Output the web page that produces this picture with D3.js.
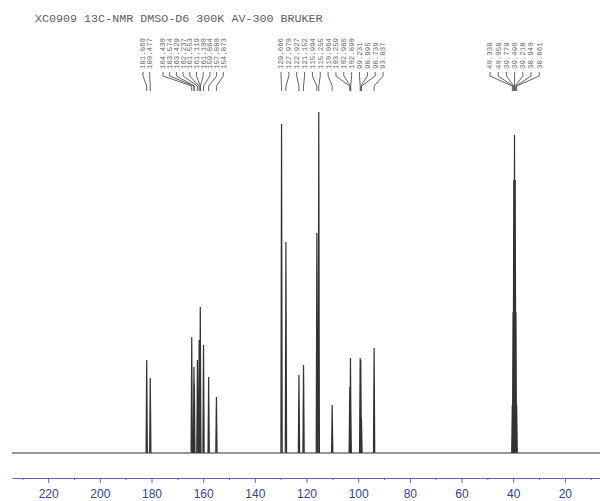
<!DOCTYPE html>
<html>
<head>
<meta charset="utf-8">
<script src="https://cdn.jsdelivr.net/npm/d3@7"></script>
<style>
  body { margin: 0; background: #fff; }
  svg { display: block; }
</style>
</head>
<body>
<script>
// chemical shifts (ppm) and peak heights
const titleText = "XC0909 13C-NMR DMSO-D6 300K AV-300 BRUKER";

const shiftsA = [181.860, 180.477];
const heightsA = [93, 75];

const shiftsB = [164.430, 163.574, 163.429, 162.237, 161.553, 161.119, 161.100, 159.864, 157.880, 154.873];
const heightsB = [116, 86, 70, 93, 113, 146, 110, 108, 76, 56];

const shiftsC = [129.666, 127.970, 122.927, 121.152, 115.994, 115.255, 110.064, 103.259, 102.985, 102.890, 99.231, 98.995, 98.739, 93.837];
const heightsC = [329, 211, 78, 88, 220, 341, 48, 66, 95, 55, 95, 93, 35, 105];

const shiftsD = [40.338, 40.058, 39.779, 39.496, 39.218, 38.940, 38.661];
const heightsD = [48, 141, 273, 318, 273, 141, 48];

const majorTicks = [220, 200, 180, 160, 140, 120, 100, 80, 60, 40, 20];
const minorTicks = [230, 210, 190, 170, 150, 130, 110, 90, 70, 50, 30, 10];

const W = 600, H = 501;
const svg = d3.select('body').append('svg')
    .attr('width', W)
    .attr('height', H);

const x = d3.scaleLinear().domain([234, 6.4]).range([12, 600]);
const y = d3.scaleLinear().domain([0, 341]).range([453, 112]);

// title
svg.append('text')
    .attr('x', 35)
    .attr('y', 22)
    .style('font-family', '"Liberation Mono", "DejaVu Sans Mono", monospace')
    .style('font-size', '11.7px')
    .style('fill', '#606060')
    .text(titleText);

// spectrum trace: baseline with a spike per peak
const groups = [
  {shifts: shiftsA, heights: heightsA, start: 143, pitch: 6.7},
  {shifts: shiftsB, heights: heightsB, start: 163, pitch: 6.7},
  {shifts: shiftsC, heights: heightsC, start: 281, pitch: 7.85},
  {shifts: shiftsD, heights: heightsD, start: 490, pitch: 8.2}
];

let peaks = [];
groups.forEach(g => {
  g.shifts.forEach((s, i) => peaks.push({ppm: s, h: g.heights[i]}));
});
peaks.sort((a, b) => b.ppm - a.ppm);

const pts = [[234, 0]];
peaks.forEach(p => {
  pts.push([p.ppm + 0.25, 0]);
  pts.push([p.ppm, p.h]);
  pts.push([p.ppm - 0.25, 0]);
});
pts.push([6.4, 0]);

const line = d3.line()
    .x(d => x(d[0]))
    .y(d => y(d[1]));

svg.append('path')
    .attr('d', line(pts))
    .style('fill', 'none')
    .style('stroke', '#333')
    .style('stroke-width', 1.2)
    .style('stroke-linejoin', 'miter');

// peak labels with leader lines
const labelBottom = 69;
groups.forEach(g => {
  g.shifts.forEach((s, i) => {
    const lx = g.start + i * g.pitch;
    const px = x(s);

    svg.append('text')
        .attr('transform', `translate(${lx + 2.4},${labelBottom}) rotate(-90)`)
        .style('font-family', '"Liberation Mono", "DejaVu Sans Mono", monospace')
        .style('font-size', '7.4px')
        .style('fill', '#666')
        .text(s.toFixed(3));

    svg.append('polyline')
        .attr('points', `${lx},72 ${lx},76 ${px},86 ${px},91`)
        .style('fill', 'none')
        .style('stroke', '#555')
        .style('stroke-width', 0.9);
  });
});

// ppm axis
const axisY = 478;
const axisColor = '#5b68b8';

const minorAxis = svg.append('g')
    .attr('transform', `translate(0,${axisY})`)
    .call(d3.axisBottom(x).tickValues(minorTicks).tickSize(2).tickSizeOuter(0).tickFormat(''));
minorAxis.select('.domain').remove();
minorAxis.selectAll('line').style('stroke', axisColor);

const majorAxis = svg.append('g')
    .attr('transform', `translate(0,${axisY})`)
    .call(d3.axisBottom(x).tickValues(majorTicks).tickSize(5).tickSizeOuter(0).tickPadding(6));
majorAxis.select('.domain').style('stroke', axisColor).style('stroke-width', 1.2);
majorAxis.selectAll('line').style('stroke', axisColor);
majorAxis.selectAll('text')
    .style('font-family', '"Liberation Sans", Arial, sans-serif')
    .style('font-size', '12px')
    .style('fill', '#33429a');
</script>
</body>
</html>
